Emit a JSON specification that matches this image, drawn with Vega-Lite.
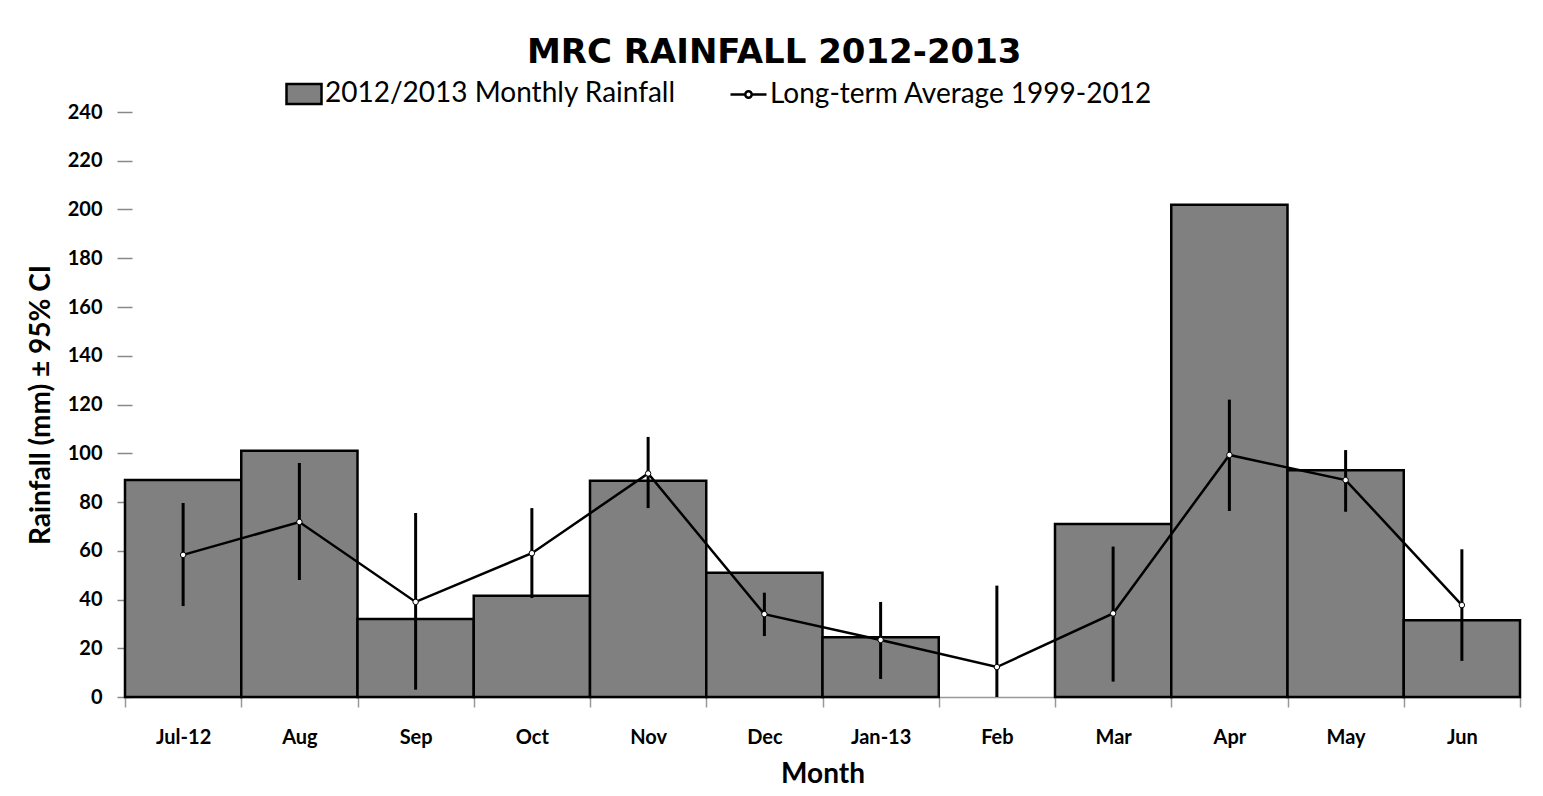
{
  "$schema": "https://vega.github.io/schema/vega-lite/v6.json",
  "width": 1395,
  "height": 585,
  "autosize": {"type": "none"},
  "padding": {"left": 125, "top": 112, "right": 23, "bottom": 99},
  "background": "white",
  "title": {
    "text": "MRC RAINFALL 2012-2013",
    "font": "DejaVu Sans",
    "fontSize": 34,
    "fontWeight": "bold",
    "color": "black",
    "anchor": "middle",
    "frame": "bounds",
    "offset": 5
  },
  "config": {
    "view": {"stroke": null},
    "font": "Lato",
    "legend": {
      "padding": 0,
      "labelFont": "Lato",
      "labelFontSize": 28,
      "labelFontWeight": "normal",
      "labelColor": "black",
      "labelOffset": 2,
      "labelLimit": 600,
      "title": null
    }
  },
  "data": {
    "values": [
      {"month": "Jul-12", "rain": 89, "avg": 58.3, "lo": 37.3, "hi": 79.6},
      {"month": "Aug", "rain": 101, "avg": 71.8, "lo": 48, "hi": 96},
      {"month": "Sep", "rain": 32, "avg": 39, "lo": 3, "hi": 75.5},
      {"month": "Oct", "rain": 41.5, "avg": 59, "lo": 40.6, "hi": 77.5},
      {"month": "Nov", "rain": 88.7, "avg": 91.7, "lo": 77.5, "hi": 106.7},
      {"month": "Dec", "rain": 51, "avg": 34, "lo": 25, "hi": 42.8},
      {"month": "Jan-13", "rain": 24.5, "avg": 23.4, "lo": 7.4, "hi": 39},
      {"month": "Feb", "rain": null, "avg": 12.3, "lo": 0, "hi": 45.7},
      {"month": "Mar", "rain": 71, "avg": 34.3, "lo": 6.3, "hi": 61.7},
      {"month": "Apr", "rain": 202, "avg": 99.3, "lo": 76.3, "hi": 122},
      {"month": "May", "rain": 93, "avg": 89, "lo": 76, "hi": 101.3},
      {"month": "Jun", "rain": 31.5, "avg": 37.7, "lo": 14.8, "hi": 60.6}
    ]
  },
  "encoding": {
    "x": {
      "field": "month",
      "type": "nominal",
      "sort": ["Jul-12", "Aug", "Sep", "Oct", "Nov", "Dec", "Jan-13", "Feb", "Mar", "Apr", "May", "Jun"],
      "scale": {"paddingInner": 0, "paddingOuter": 0},
      "axis": {
        "title": "Month",
        "titleFont": "Lato",
        "titleFontSize": 28,
        "titleFontWeight": "bold",
        "titleColor": "black",
        "titlePadding": 13,
        "labelAngle": 0,
        "labelFont": "Lato",
        "labelFontSize": 20,
        "labelFontWeight": "bold",
        "labelColor": "black",
        "labelPadding": 20,
        "labelBaseline": "top",
        "tickBand": "extent",
        "tickSize": 10,
        "tickColor": "#999999",
        "tickWidth": 1.5,
        "domainColor": "#999999",
        "domainWidth": 1.5,
        "grid": false
      }
    }
  },
  "layer": [
    {
      "mark": {"type": "bar", "stroke": "black", "strokeWidth": 2.5},
      "encoding": {
        "y": {
          "field": "rain",
          "type": "quantitative",
          "scale": {"domain": [0, 240]},
          "axis": {
            "title": "Rainfall (mm) ± 95% CI",
            "titleFont": "Lato",
            "titleFontSize": 28,
            "titleFontWeight": "bold",
            "titleColor": "black",
            "titlePadding": 12,
            "values": [0, 20, 40, 60, 80, 100, 120, 140, 160, 180, 200, 220, 240],
            "labelFont": "Lato",
            "labelFontSize": 20,
            "labelFontWeight": "bold",
            "labelColor": "black",
            "labelPadding": 15,
            "offset": -7,
            "tickSize": 15,
            "tickColor": "#888888",
            "tickWidth": 1.5,
            "domain": false,
            "grid": false
          }
        },
        "fill": {
          "datum": "2012/2013 Monthly Rainfall",
          "type": "nominal",
          "scale": {"range": ["#808080"]},
          "legend": {
            "orient": "none",
            "legendX": 160,
            "legendY": -37,
            "symbolType": "M-1,-0.57H1V0.57H-1Z",
            "symbolSize": 1225,
            "symbolStrokeColor": "black",
            "symbolStrokeWidth": 2.5
          }
        }
      }
    },
    {
      "mark": {"type": "rule", "color": "black", "strokeWidth": 3},
      "encoding": {
        "y": {"field": "lo", "type": "quantitative"},
        "y2": {"field": "hi"}
      }
    },
    {
      "mark": {"type": "line", "strokeWidth": 2.5},
      "encoding": {
        "y": {"field": "avg", "type": "quantitative"},
        "stroke": {
          "datum": "Long-term Average 1999-2012",
          "type": "nominal",
          "scale": {"range": ["black"]},
          "legend": {
            "orient": "none",
            "legendX": 604,
            "legendY": -37,
            "symbolType": "M-1,0H-0.18M0.18,0H1M-0.18,0A0.18,0.18 0 1,0 0.18,0A0.18,0.18 0 1,0 -0.18,0",
            "symbolSize": 1296,
            "symbolFillColor": "white",
            "symbolStrokeWidth": 2.5
          }
        }
      }
    },
    {
      "mark": {"type": "point", "filled": true, "fill": "white", "stroke": "black", "strokeWidth": 1, "size": 30, "opacity": 1, "shape": "circle"},
      "encoding": {
        "y": {"field": "avg", "type": "quantitative"}
      }
    }
  ]
}
